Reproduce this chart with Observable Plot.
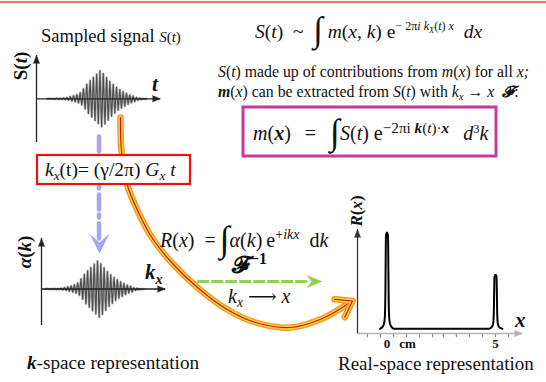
<!DOCTYPE html>
<html>
<head>
<meta charset="utf-8">
<script src="https://cdn.jsdelivr.net/npm/d3@7"></script>
<script src="https://cdn.jsdelivr.net/npm/@observablehq/plot@0.6"></script>
<style>
  html, body { margin: 0; padding: 0; background: #fff; }
  #fig { position: relative; width: 546px; height: 382px; overflow: hidden; color: #111; }
  #fig svg { position: absolute; }
  .t { position: absolute; white-space: nowrap; line-height: 1; font-family: "Liberation Serif", "DejaVu Serif", serif; }
  .sup { font-size: 0.62em; position: relative; top: -0.62em; line-height: 0; }
  .sub { font-size: 0.68em; position: relative; top: 0.3em; line-height: 0; }
  .int { font-size: 1.8em; position: relative; top: 0.1em; line-height: 0; }
</style>
</head>
<body>
<div id="fig"></div>
<script>
// Peak amplitude of each oscillation cycle of the echo (arbitrary units)
const cycleAmplitude = [0.01, 0.01, 0.02, 0.02, 0.03, 0.05, 0.08, 0.11, 0.15, 0.22, 0.36, 0.52, 0.65, 0.77, 0.88,
                        1.00, 0.90, 0.76, 0.62, 0.51, 0.41, 0.33, 0.26, 0.20, 0.14, 0.10, 0.05, 0.03, 0.01];

// Real-space profile: two point objects (position in cm, relative intensity)
const objectPositions = [0, 5];
const objectHeights = [1, 0.56];

// Line shape of a single point object (offset in cm, relative level)
const lineShapeOffset = [-0.32, -0.21, -0.14, -0.10, -0.078, -0.065, -0.046, 0, 0.046, 0.065, 0.078, 0.10, 0.14, 0.21, 0.32];
const lineShapeLevel  = [0, 0.02, 0.05, 0.12, 0.30, 0.60, 0.97, 1, 0.97, 0.60, 0.30, 0.12, 0.05, 0.02, 0];

// Tick marks (cm) and labels of the position axis
const xTicksCm = [-0.9, -0.3, 0.3, 0.9, 1.5, 2.1, 2.6, 3.2, 3.8, 4.4, 5.0, 5.6];
const xTickText = ["0", "cm", "5"];
const xTickTextAt = [0, 0.95, 5];

const fig = document.getElementById("fig");
const SERIF = "Liberation Serif, DejaVu Serif, serif";

// zig-zag trace through the positive and negative lobe of every cycle
function trace(env) {
  const pts = [{t: -1, a: 0}];
  env.forEach((a, i) => pts.push({t: i, a}, {t: i + 0.5, a: -a}));
  pts.push({t: env.length, a: 0});
  return pts;
}

function place(svg, left, top) {
  svg.style.left = left + "px";
  svg.style.top = top + "px";
  fig.appendChild(svg);
}

// axis pair with filled arrow heads, drawn in data units of the panel
function axisMarks(xLo, xHi, yLo, yHi, yAxisAt, colorX = "#222", colorY = "#222") {
  return [
    Plot.ruleY([yAxisAt], {x1: xLo, x2: xHi, stroke: colorX, strokeWidth: 1.3}),
    Plot.ruleX([xLo], {y1: yLo, y2: yHi, stroke: colorY, strokeWidth: 1.3}),
    Plot.vector([{x: xHi, y: yAxisAt}], {x: "x", y: "y", rotate: 90, length: 8, r: 3.2, shape: "spike",
      anchor: "end", fill: colorX, fillOpacity: 1, stroke: colorX, strokeWidth: 0.4}),
    Plot.vector([{x: xLo, y: yHi}], {x: "x", y: "y", rotate: 0, length: 8, r: 3.2, shape: "spike",
      anchor: "end", fill: colorY, fillOpacity: 1, stroke: colorY, strokeWidth: 0.4})
  ];
}

// dense oscillation drawn as a soft halo plus a darker core
const oscillation = (data) => [
  Plot.line(data, {x: "t", y: "a", stroke: "#b5b5b5", strokeWidth: 2.4}),
  Plot.line(data, {x: "t", y: "a", stroke: "#4e4e4e", strokeWidth: 1.1})
];

// ---- sampled signal S(t)
const tDomain = [-4.2, 33.3], aDomainS = [-1.56, 1.546];
place(Plot.plot({
  width: 175, height: 105, margin: 0,
  x: {domain: tDomain, range: [36, 160], axis: null},
  y: {domain: aDomainS, range: [97, 10], axis: null},
  style: "background: transparent; overflow: visible;",
  marks: [
    ...oscillation(trace(cycleAmplitude)),
    ...axisMarks(tDomain[0], tDomain[1], aDomainS[0], aDomainS[1], 0)
  ]
}), 0, 45);

// ---- k-space data alpha(k): the same samples laid out along k_x
const kDomain = [-1.97, 35.6], aDomainK = [-1.30, 1.80];
place(Plot.plot({
  width: 180, height: 105, margin: 0,
  x: {domain: kDomain, range: [41, 165], axis: null},
  y: {domain: aDomainK, range: [97, 10], axis: null},
  style: "background: transparent; overflow: visible;",
  marks: [
    ...oscillation(trace(cycleAmplitude)),
    ...axisMarks(kDomain[0], kDomain[1], aDomainK[0], aDomainK[1], 0)
  ]
}), 0, 228);

// ---- real-space profile R(x)
const profile = [];
objectPositions.forEach((p, j) =>
  lineShapeOffset.forEach((o, k) => profile.push({x: p + o, v: objectHeights[j] * lineShapeLevel[k]})));
const cmDomain = [-1.359, 6.244], vDomain = [-0.0488, 1.031];
place(Plot.plot({
  width: 210, height: 165, margin: 0,
  x: {domain: cmDomain, range: [27, 192], axis: null},
  y: {domain: vDomain, range: [143, 39], axis: null},
  style: "background: transparent; overflow: visible;",
  marks: [
    Plot.ruleX(xTicksCm, {y1: vDomain[0], y2: -0.092, stroke: "#8a8a8a", strokeWidth: 1.2}),
    ...axisMarks(cmDomain[0], cmDomain[1], vDomain[0], vDomain[1], vDomain[0], "#b4b4b4", "#333"),
    Plot.line(profile, {x: "x", y: "v", stroke: "#000", strokeWidth: 2, curve: "monotone-x"}),
    Plot.text(xTickText, {x: (d, i) => xTickTextAt[i], y: -0.153, text: d => d, fontSize: 13,
      fontWeight: "bold", fontFamily: SERIF, fill: "#111"})
  ]
}), 330, 190);

// ---- connectors, arrows and boxes (page pixel space)
function chevron([tx, ty], [dx, dy], len, half, notch) {
  const n = Math.hypot(dx, dy), ux = dx / n, uy = dy / n, px = -uy, py = ux;
  return [
    {x: tx, y: ty},
    {x: tx - len * ux + half * px, y: ty - len * uy + half * py},
    {x: tx - (len - notch) * ux, y: ty - (len - notch) * uy},
    {x: tx - len * ux - half * px, y: ty - len * uy - half * py}
  ];
}
function wings([tx, ty], [dx, dy], len, angleDeg) {
  const n = Math.hypot(dx, dy), ux = -dx / n, uy = -dy / n, a = angleDeg * Math.PI / 180;
  const rot = (s) => ({x: tx + len * (ux * Math.cos(s * a) - uy * Math.sin(s * a)),
                       y: ty + len * (ux * Math.sin(s * a) + uy * Math.cos(s * a))});
  return [rot(1), {x: tx, y: ty}, rot(-1)];
}

const blueShaft = [{x: 98.5, y: 136}, {x: 98.5, y: 243}];
const blueHead = chevron([99, 253], [0, 1], 20, 10, 9);
const greenShaft = [{x: 198, y: 281}, {x: 310, y: 281}];
const greenHead = chevron([322, 281], [1, 0], 16, 6.5, 5);
const reconPath = [
  {x: 120, y: 117}, {x: 121, y: 150}, {x: 127, y: 185}, {x: 138, y: 212}, {x: 152, y: 238},
  {x: 172, y: 263}, {x: 197, y: 287}, {x: 225, y: 308}, {x: 255, y: 322}, {x: 290, y: 327},
  {x: 322, y: 318}, {x: 351, y: 301}
];
const reconHead = wings([352, 300.5], [30, -17], 18, 35);
const encodeBox = [{x1: 37, x2: 190, y1: 155, y2: 184}];
const inverseBox = [{x1: 243, x2: 496, y1: 107, y2: 156}];

const tube = (data, curve) => [
  Plot.line(data, {x: "x", y: "y", curve, stroke: "#ee9a1c", strokeWidth: 6.5, strokeLinejoin: "round"}),
  Plot.line(data, {x: "x", y: "y", curve, stroke: "#ffd43a", strokeWidth: 3.8, strokeLinejoin: "round"}),
  Plot.line(data, {x: "x", y: "y", curve, stroke: "#c4162a", strokeWidth: 1.2, strokeLinejoin: "round"})
];

place(Plot.plot({
  width: 546, height: 382, margin: 0,
  x: {type: "identity"}, y: {type: "identity"},
  style: "background: transparent; overflow: visible;",
  marks: [
    Plot.ruleY([1.5], {stroke: "#e64646", strokeWidth: 1.4}),
    Plot.line(blueShaft, {x: "x", y: "y", stroke: "#a6a6ec", strokeWidth: 4.5, strokeDasharray: "15,5,3,6"}),
    Plot.line(blueHead, {x: "x", y: "y", fill: "#a6a6ec", stroke: "none"}),
    ...tube(reconPath, "catmull-rom"),
    ...tube(reconHead, "linear"),
    Plot.rect(encodeBox, {x1: "x1", x2: "x2", y1: "y1", y2: "y2", fill: "white", stroke: "#f01010", strokeWidth: 2.2}),
    Plot.rect(inverseBox, {x1: "x1", x2: "x2", y1: "y1", y2: "y2", fill: "white", stroke: "#c63a9e", strokeWidth: 3}),
    Plot.line(greenShaft, {x: "x", y: "y", stroke: "#92d050", strokeWidth: 3.2, strokeDasharray: "9.5,4.5"}),
    Plot.line(greenHead, {x: "x", y: "y", fill: "#92d050", stroke: "none"})
  ]
}), 0, 0);

// ---- text and formulas (positioned by baseline)
function label(html, x, baseline, size, css = "") {
  const d = document.createElement("div");
  d.className = "t";
  d.style.cssText = `left:${x}px;top:${baseline - 0.84 * size}px;font-size:${size}px;${css}`;
  d.innerHTML = html;
  fig.appendChild(d);
}
function vlabel(html, cx, cy, size) {
  const d = document.createElement("div");
  d.className = "t";
  d.style.cssText = `left:${cx}px;top:${cy}px;font-size:${size}px;transform:translate(-50%,-50%) rotate(-90deg);`;
  d.innerHTML = html;
  fig.appendChild(d);
}

label(`Sampled signal <span style="font-size:15px"><i>S</i>(<i>t</i>)</span>`, 41, 43, 18.5);
vlabel(`<b>S(<i>t</i>)</b>`, 20, 66, 19);
label(`<b><i>t</i></b>`, 152, 92, 21);
label(`<i>k<span class="sub">x</span></i>(t)= (γ/2π) <i>G<span class="sub">x</span></i> <i>t</i>`, 45, 176, 19.5);
vlabel(`<b><i>α</i>(<i>k</i>)</b>`, 24, 252, 19);
label(`<b><i>k<span class="sub">x</span></i></b>`, 145, 280, 21);
label(`<b><i>k</i></b>-space representation`, 27, 369, 19.2);

label(`<i>S</i>(<i>t</i>)&ensp;~&ensp;<span class="int">∫</span> <i>m</i>(<i>x</i>, <i>k</i>) e<span class="sup">− 2π<i>i k<span class="sub">X</span></i>(<i>t</i>) <i>x</i></span>&ensp;<i>dx</i>`, 255, 38, 19.5);
label(`<i>S</i>(<i>t</i>) made up of contributions from <i>m</i>(<i>x</i>) for all <i>x;</i>`, 218, 77, 15.8);
label(`<b><i>m</i></b>(<i>x</i>) can be extracted from <i>S</i>(<i>t</i>) with <i>k<span class="sub">x</span></i> → <i>x</i>&ensp;<b><i>𝓕</i></b>:`, 218, 97, 15.8);
label(`<i>m</i>(<b><i>x</i></b>)&ensp;&thinsp;=&ensp;&thinsp;<span class="int">∫</span><i>S</i>(<i>t</i>) e<span class="sup" style="font-size:0.76em;top:-0.5em">−2πi <b><i>k</i></b>(<i>t</i>)·<b><i>x</i></b></span>&ensp;&thinsp;<i>d</i><span class="sup">3</span><i>k</i>`, 253, 140, 20);

label(`<i>R</i>(<i>x</i>)&ensp;=&thinsp;<span class="int">∫</span><i>α</i>(<i>k</i>)&thinsp;e<span class="sup" style="font-size:0.7em">+<i>ikx</i></span>&ensp;d<i>k</i>`, 160, 247, 20);
label(`<b>𝓕</b><span class="sup" style="font-weight:bold;font-size:0.66em;top:-0.55em">−1</span>`, 232, 273, 24);
label(`<i>k<span class="sub">x</span></i> ⟶ <i>x</i>`, 228, 303, 20);
vlabel(`<b><i>R</i>(<i>x</i>)</b>`, 356, 211, 17);
label(`<b><i>x</i></b>`, 515, 328, 21);
label(`Real-space representation`, 338, 370, 19);
</script>
</body>
</html>
